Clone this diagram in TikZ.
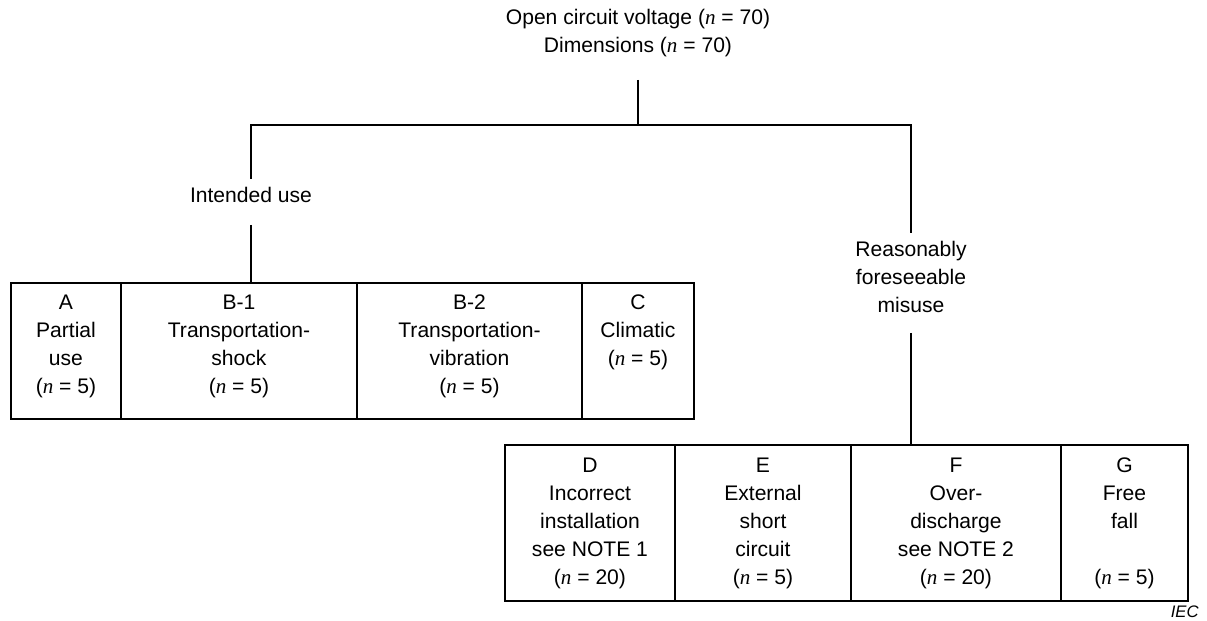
\documentclass[tikz,border=0pt]{standalone}
\usepackage{fontspec}
\setmainfont{Liberation Sans}
\newfontfamily\serifn{Liberation Serif}
\usetikzlibrary{positioning}
\newcommand{\nn}{{\serifn\itshape n}}

\begin{document}
\begin{tikzpicture}[x=0.02cm, y=-0.02cm,
    cell/.style={rectangle, draw, line width=1.1pt, inner sep=0pt, anchor=north west},
    upper/.style={cell, minimum height=136*0.02cm},
    lower/.style={cell, minimum height=156*0.02cm},
    txt/.style={align=center, inner sep=0pt, font=\fontsize{12}{15.94}\selectfont},
    line/.style={line width=1.1pt}
]
    \useasboundingbox (0,0) rectangle (1207,621);

    % Headings
    \node[txt] (head) at (638,33) {Open circuit voltage (\nn{} = 70)\\Dimensions (\nn{} = 70)};
    \node[txt] (iu) at (251,195) {Intended use};
    \node[txt] (rm) at (911,277) {Reasonably\\foreseeable\\misuse};

    % Intended use
    \node[upper, minimum width=110*0.02cm] (a) at (10,282) {};
    \node[upper, minimum width=236*0.02cm] (b1) at (120,282) {};
    \node[upper, minimum width=225*0.02cm] (b2) at (356,282) {};
    \node[upper, minimum width=112*0.02cm] (c) at (581,282) {};
    \node[txt, below=7pt of a.north] (ta) {A\\Partial\\use\\(\nn{} = 5)};
    \node[txt, below=7pt of b1.north] (tb1) {B-1\\Transportation-\\shock\\(\nn{} = 5)};
    \node[txt, below=7pt of b2.north] (tb2) {B-2\\Transportation-\\vibration\\(\nn{} = 5)};
    \node[txt, below=7pt of c.north] (tc) {C\\Climatic\\(\nn{} = 5)};

    % Misuse
    \node[lower, minimum width=170*0.02cm] (d) at (504,444) {};
    \node[lower, minimum width=176*0.02cm] (e) at (674,444) {};
    \node[lower, minimum width=210*0.02cm] (f) at (850,444) {};
    \node[lower, minimum width=127*0.02cm] (g) at (1060,444) {};
    \node[txt, below=7.6pt of d.north] (td) {D\\Incorrect\\installation\\see NOTE 1\\(\nn{} = 20)};
    \node[txt, below=7.6pt of e.north] (te) {E\\External\\short\\circuit\\(\nn{} = 5)};
    \node[txt, below=7.6pt of f.north] (tf) {F\\Over-\\discharge\\see NOTE 2\\(\nn{} = 20)};
    \node[txt, below=7.6pt of g.north] (tg) {G\\Free\\fall\\\mbox{}\\(\nn{} = 5)};

    \node[anchor=east, inner sep=0pt, font=\fontsize{9.5}{11}\selectfont\itshape] (iec) at (1199,612) {IEC};

    % Tree
    \coordinate (root) at (638,80);
    \coordinate (split) at (638,125);
    \coordinate (iuT) at (251,179);
    \coordinate (iuB) at (251,225);
    \coordinate (rmT) at (911,233);
    \coordinate (rmB) at (911,333);
    \draw[line] (root) -- (split);
    \draw[line] (iuT) |- (split) -| (rmT);
    \draw[line] (iuB) -- (iuB |- b1.north);
    \draw[line] (rmB) -- (rmB |- f.north);
\end{tikzpicture}
\end{document}
